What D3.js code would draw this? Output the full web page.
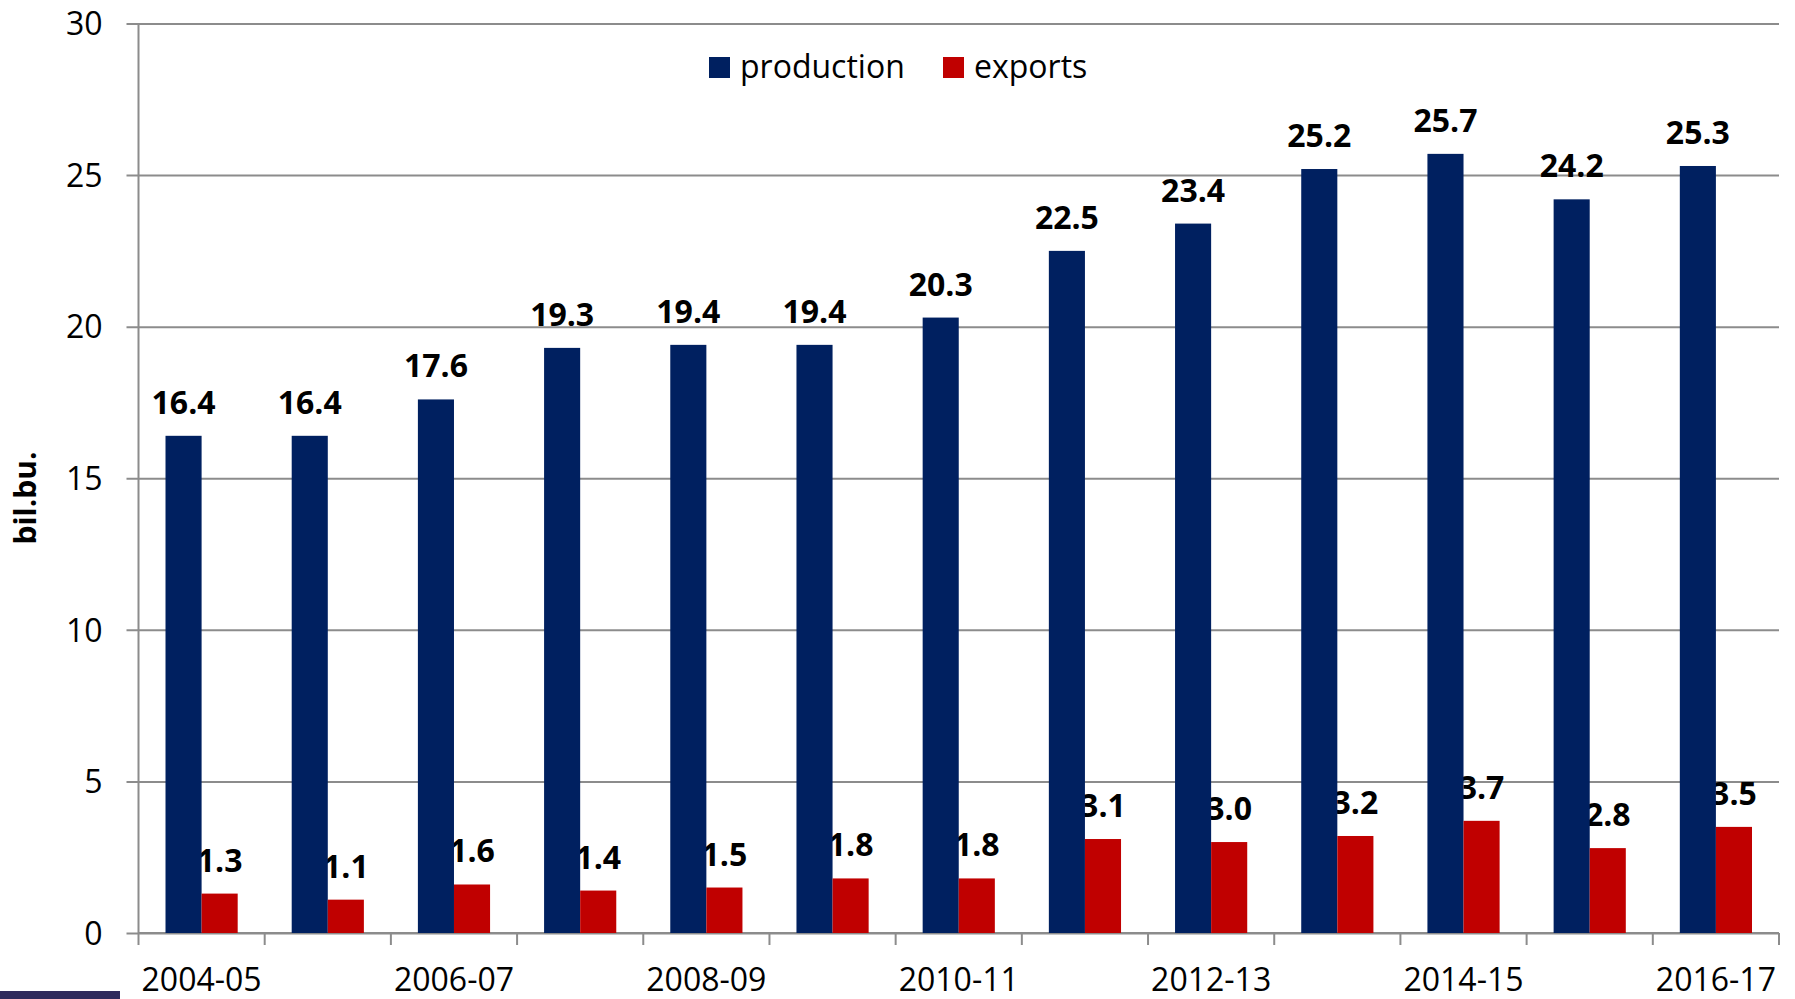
<!DOCTYPE html>
<html>
<head>
<meta charset="utf-8">
<script src="https://cdn.jsdelivr.net/npm/d3@7"></script>
<style>
  body { margin: 0; background: #fff; }
  text { font-family: "Open Sans", sans-serif; fill: #000; }
</style>
</head>
<body>
<script>
// crop years, bil.bu.
var years = ["2004-05", "2005-06", "2006-07", "2007-08", "2008-09", "2009-10", "2010-11",
             "2011-12", "2012-13", "2013-14", "2014-15", "2015-16", "2016-17"];
var production = [16.4, 16.4, 17.6, 19.3, 19.4, 19.4, 20.3, 22.5, 23.4, 25.2, 25.7, 24.2, 25.3];
var exports = [1.3, 1.1, 1.6, 1.4, 1.5, 1.8, 1.8, 3.1, 3.0, 3.2, 3.7, 2.8, 3.5];
var yTicks = [0, 5, 10, 15, 20, 25, 30];
var seriesNames = ["production", "exports"];
var colors = ["#002060", "#C00000"];

var margin = {top: 23.5, right: 16, bottom: 66, left: 138.5},
    width = 1795 - margin.left - margin.right,
    height = 999 - margin.top - margin.bottom;

var svg = d3.select("body").append("svg")
  .attr("width", 1795)
  .attr("height", 999);

var g = svg.append("g")
  .attr("transform", "translate(" + margin.left + "," + margin.top + ")");

var x = d3.scaleBand().domain(years).range([0, width]).paddingInner(0.428).paddingOuter(0.214);
var x1 = d3.scaleBand().domain(seriesNames).range([0, x.bandwidth()]);
var y = d3.scaleLinear().domain([0, 30]).range([height, 0]);

var rows = years.map(function(yr, i) {
  return {year: yr, values: [production[i], exports[i]]};
});

// gridlines + y axis
var yAxis = d3.axisLeft(y).tickValues(yTicks).tickSize(-width - 12).tickPadding(24);
var yg = g.append("g").attr("transform", "translate(-12,0)").call(yAxis);
yg.select(".domain").remove();
yg.selectAll(".tick line").attr("stroke", "#8c8c8c").attr("stroke-width", 2);
yg.selectAll(".tick text").style("font-size", "32px").attr("dy", "0.35em");

g.append("line")
  .attr("x1", 0).attr("x2", 0).attr("y1", 0).attr("y2", height)
  .attr("stroke", "#8c8c8c").attr("stroke-width", 2);

// x axis: ticks between categories, labels on every other category
var step = x.step();
var xg = g.append("g").attr("transform", "translate(0," + height + ")");
xg.append("line").attr("x1", 0).attr("x2", width).attr("stroke", "#8c8c8c").attr("stroke-width", 2);
xg.selectAll(".xtick")
  .data(d3.range(years.length + 1))
  .enter().append("line")
  .attr("x1", function(d) { return d * step; })
  .attr("x2", function(d) { return d * step; })
  .attr("y1", 0).attr("y2", 12)
  .attr("stroke", "#8c8c8c").attr("stroke-width", 2);
xg.selectAll(".xlabel")
  .data(years.filter(function(d, i) { return i % 2 === 0; }))
  .enter().append("text")
  .attr("x", function(d) { return x(d) + x.bandwidth() / 2; })
  .attr("y", 58)
  .attr("text-anchor", "middle")
  .style("font-size", "32px")
  .text(function(d) { return d; });

var groups = g.selectAll(".grp")
  .data(rows)
  .enter().append("g")
  .attr("transform", function(d) { return "translate(" + x(d.year) + ",0)"; });

function labelSel(sel, k) {
  sel.append("text")
    .attr("x", x1(seriesNames[k]) + x1.bandwidth() / 2)
    .attr("y", function(d) { return y(d.values[k]) - 22; })
    .attr("text-anchor", "middle")
    .style("font-size", "32px")
    .style("font-weight", "bold")
    .text(function(d) { return d.values[k].toFixed(1); });
}

// export labels sit behind the bars, like in the original
labelSel(groups, 1);

groups.selectAll("rect")
  .data(function(d) { return d.values.map(function(v, k) { return {k: k, v: v}; }); })
  .enter().append("rect")
  .attr("x", function(d) { return x1(seriesNames[d.k]); })
  .attr("width", x1.bandwidth())
  .attr("y", function(d) { return y(d.v); })
  .attr("height", function(d) { return height - y(d.v); })
  .style("fill", function(d) { return colors[d.k]; });

labelSel(groups, 0);

// y label
svg.append("text")
  .attr("transform", "translate(36,498) rotate(-90)")
  .attr("text-anchor", "middle")
  .style("font-size", "30px")
  .style("font-weight", "bold")
  .text("bil.bu.");

// legend
var legend = svg.append("g");
var legX = [709, 943];
seriesNames.forEach(function(name, i) {
  legend.append("rect")
    .attr("x", legX[i]).attr("y", 57).attr("width", 21).attr("height", 21)
    .style("fill", colors[i]);
  legend.append("text")
    .attr("x", legX[i] + 31).attr("y", 78)
    .style("font-size", "32px")
    .text(name);
});

// dark strip at the bottom left of the slide
svg.append("rect")
  .attr("x", 0).attr("y", 991).attr("width", 120).attr("height", 8)
  .style("fill", "#2e2a5c");
</script>
</body>
</html>
